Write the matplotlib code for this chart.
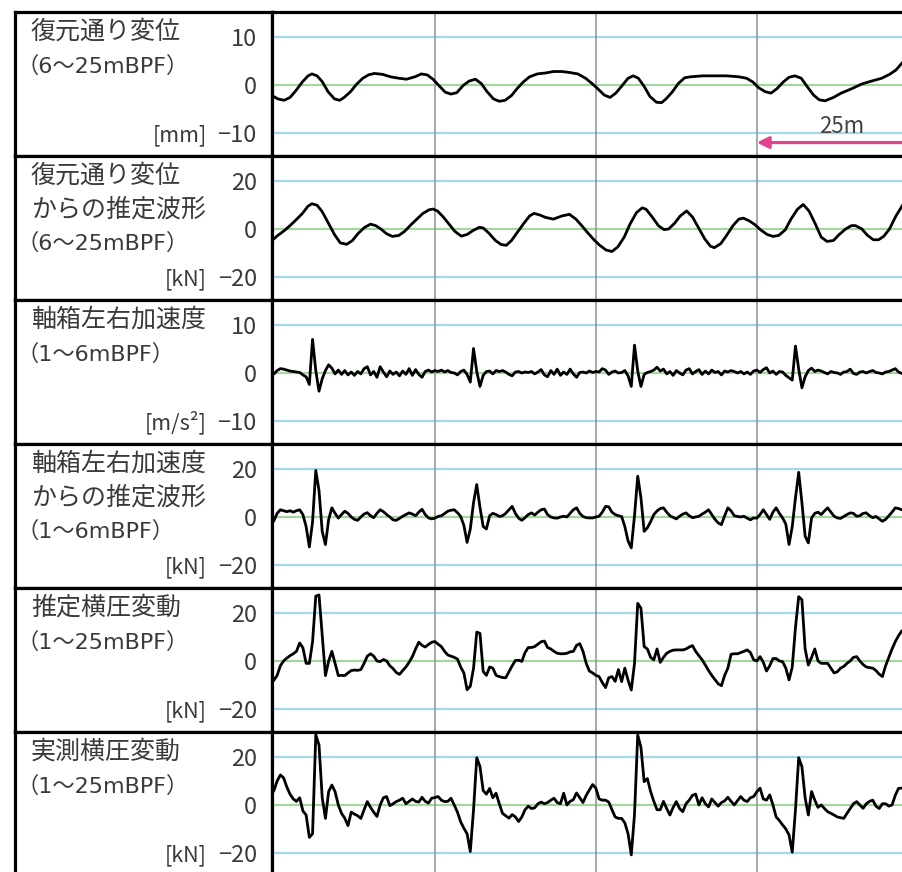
import numpy as np
import matplotlib
matplotlib.use('Agg')
import matplotlib.pyplot as plt

plt.rcParams['font.family'] = ['Noto Sans CJK JP', 'DejaVu Sans']

# --- データ（距離 [m]） ---
# 復元通り変位 (6~25mBPF) [mm]
disp_x = [-0.3, 0.6, 1.6, 2.5, 3.4, 4.4, 5.3, 5.9, 6.7, 7.5, 8.4, 9.4, 10.2, 10.9, 11.9,
          12.8, 13.8, 14.7, 15.6, 16.9, 18.1, 19.4, 20.6, 21.9, 22.9, 23.8, 24.7, 25.6,
          26.6, 27.5, 28.4, 29.4, 30.3, 31.3, 32.2, 33.1, 34.1, 35.0, 35.9, 36.9, 37.8,
          38.8, 39.7, 40.9, 42.2, 43.4, 44.7, 45.9, 47.2, 48.4, 49.4, 50.3, 51.3, 52.2,
          53.1, 54.1, 55.0, 55.8, 56.6, 57.5, 58.4, 59.4, 60.2, 60.9, 61.9, 62.8, 63.8,
          64.7, 66.6, 68.4, 70.3, 72.2, 73.4, 74.4, 75.3, 76.3, 77.2, 78.1, 79.1, 80.0,
          80.9, 81.9, 82.8, 83.8, 84.7, 85.6, 86.9, 88.1, 89.7, 91.3, 92.8, 94.4, 95.6,
          96.6, 97.7]
disp_y = [-2.2, -2.9, -3.2, -2.6, -1.2, 0.6, 1.9, 2.3, 1.9, 0.7, -1.4, -2.9, -3.2, -2.6, -1.4,
          0.1, 1.4, 2.1, 2.4, 2.2, 1.7, 1.4, 1.2, 1.7, 2.3, 2.1, 1.2, -0.1,
          -1.5, -1.9, -1.6, -0.1, 0.8, 1.2, 0.3, -1.4, -2.9, -3.4, -3.2, -2.2, -0.7,
          0.7, 1.7, 2.3, 2.5, 2.8, 2.8, 2.6, 2.3, 1.4, 0.3, -0.8, -2.1, -2.6,
          -1.7, -0.1, 1.4, 1.9, 1.4, -0.3, -2.4, -3.6, -3.7, -2.9, -1.4, 0.3, 1.5,
          1.7, 1.9, 1.9, 1.9, 1.7, 1.4, 0.6, -0.6, -1.4, -1.7, -0.8, 0.6, 1.6,
          1.9, 1.4, -0.3, -2.1, -3.1, -3.3, -2.6, -1.7, -0.8, 0.2, 0.8, 1.4, 2.2,
          3.1, 4.8]

# 復元通り変位からの推定波形 (6~25mBPF) [kN]
disp_force_x = [-0.3, 0.6, 1.6, 2.5, 3.4, 4.4, 5.3, 5.9, 6.7, 7.5, 8.4, 9.4, 10.3, 11.3, 12.2,
                13.1, 14.1, 15.0, 15.8, 16.6, 17.5, 18.4, 19.4, 20.3, 21.3, 22.2, 23.1, 24.1,
                24.7, 25.4, 26.3, 27.2, 28.1, 29.1, 30.0, 30.9, 31.9, 32.5, 33.4, 34.4, 35.3,
                36.1, 36.9, 37.8, 38.8, 39.7, 40.4, 41.3, 42.2, 43.4, 44.7, 45.9, 46.9, 47.8,
                48.8, 49.7, 50.6, 51.6, 52.5, 53.4, 54.4, 55.3, 56.3, 57.2, 57.8, 58.8, 59.7,
                60.6, 61.3, 62.2, 63.1, 64.1, 65.0, 65.9, 66.9, 67.8, 68.4, 69.4, 70.3, 71.3,
                72.2, 72.9, 73.8, 74.7, 75.6, 76.6, 77.5, 78.4, 79.4, 80.3, 81.3, 82.2, 83.1,
                84.1, 85.0, 85.9, 86.9, 87.8, 88.8, 89.7, 90.3, 91.3, 92.2, 93.1, 93.9, 94.7,
                95.6, 96.6, 97.7]
disp_force_y = [-4.8, -2.7, -0.7, 1.4, 3.7, 6.4, 9.5, 10.5, 9.9, 7.2, 2.7, -2.3, -5.8, -6.4, -4.8,
                -1.8, 0.7, 2.0, 1.4, 0.0, -2.0, -3.1, -2.7, -1.0, 1.8, 4.1, 6.4, 8.0,
                8.3, 7.5, 5.0, 2.0, -1.0, -3.0, -2.3, -0.7, 0.7, 0.4, -1.8, -4.8, -6.5,
                -6.8, -4.8, -1.4, 2.3, 5.4, 6.5, 5.8, 4.8, 4.1, 5.4, 6.1, 4.1, 1.4,
                -1.8, -4.5, -6.8, -8.8, -9.4, -7.5, -3.4, 2.0, 6.8, 8.8, 8.2, 4.8, 1.4,
                -0.3, 0.0, 2.3, 5.4, 7.5, 5.0, 0.7, -4.1, -7.2, -7.8, -6.1, -2.7, 1.4,
                4.1, 4.5, 3.4, 1.8, -0.4, -2.3, -3.1, -2.7, -0.4, 4.1, 8.2, 10.2, 7.5,
                2.0, -3.4, -5.2, -4.8, -2.3, 0.0, 1.4, 1.4, 0.0, -2.7, -4.5, -4.5, -3.1,
                0.0, 5.4, 10.2]

# 0.5m 間隔の距離
dist = np.arange(-0.5, 98.01, 0.5)

# 軸箱左右加速度 (1~6mBPF) [m/s2]
accel_y = [
    -0.3, -0.2, 0.5, 0.9, 0.8, 0.6, 0.4, 0.3, 0.2, 0.1,
    -0.4, -0.8, -2.4, 7.0, 0.5, -3.8, -1.2, 0.5, 1.7, 1.0,
    -0.2, 0.6, -0.3, 0.5, -0.4, 0.2, -0.5, 0.3, -0.2, 0.9,
    1.3, -0.4, 0.3, -0.9, 1.3, 0.2, -0.8, 0.4, -0.3, 0.2,
    -0.6, 0.4, -0.3, 0.9, -0.5, 0.7, -0.3, -0.9, 0.3, 0.6,
    0.2, 0.5, 0.3, 0.6, 0.2, 0.5, 0.1, 0.0, -0.4, 0.3,
    0.6, -0.3, -1.9, 5.1, 0.3, -2.8, -0.5, 0.3, 0.4, -0.2,
    0.5, 0.3, 0.5, 0.2, -0.3, -0.6, 0.2, 0.3, 0.0, 0.2,
    0.1, 0.3, -0.2, 0.2, 0.7, -0.4, -0.8, 0.5, -0.3, 0.8,
    -0.5, 0.2, -0.3, 0.8, -0.2, -0.9, 0.1, 0.2, 0.0, 0.4,
    0.1, 0.3, 0.2, 0.9, 0.6, -0.3, 0.2, 0.4, 0.0, 0.1,
    0.5, -0.6, -2.8, 5.8, 0.4, -2.8, -0.3, 0.1, 0.3, 0.6,
    1.2, 0.4, 0.8, -0.2, 0.3, -0.5, 0.5, 0.0, -0.4, 0.6,
    0.9, -0.2, 0.3, 0.7, -0.3, 0.4, -0.2, 0.6, 0.1, 0.3,
    -0.4, 0.4, 0.2, 0.5, 0.3, 0.0, 0.3, -0.2, 0.2, -0.3,
    0.4, 0.6, 0.1, 0.7, 1.1, 0.0, 0.4, -0.3, 0.3, 0.2,
    -0.5, -1.0, -1.5, 5.6, 0.8, -3.1, -0.8, 0.5, 1.0, 0.3,
    0.6, 0.4, 0.1, -0.2, 0.3, 0.1, 0.0, -0.3, 0.2, 0.3,
    0.8, -0.1, -0.3, 0.2, 0.3, 0.0, 0.3, 0.5, 0.1, 0.0,
    -0.2, 0.2, 0.3, 0.6, 0.9, 0.2, -0.1, 0.0]

# 軸箱左右加速度からの推定波形 (1~6mBPF) [kN]
accel_force_y = [
    -3.6, -1.5, 1.5, 3.0, 2.6, 2.2, 2.6, 2.0, 2.6, 3.0,
    1.0, -4.0, -12.5, -2.0, 19.4, 11.0, -6.0, -11.5, -1.0, 3.8,
    1.5, -0.5, 1.0, 2.4, 1.5, 0.0, -1.0, -1.4, 0.0, 1.2,
    1.8, 0.5, -0.3, 1.5, 3.0, 2.2, 1.0, 0.0, -1.2, -1.4,
    -0.6, 0.3, 1.0, 1.7, 1.2, 0.5, 2.0, 3.2, 1.0, -0.4,
    -0.8, -0.5, 0.2, 0.5, 1.4, 2.4, 2.8, 3.0, 1.8, 0.2,
    -3.5, -10.6, -5.0, 6.0, 13.5, 4.0, -4.0, -5.0, 0.5, 1.5,
    1.0, 0.2, 0.5, 1.5, 3.0, 4.4, 1.5, -0.5, -1.4, -0.3,
    1.0, 1.7, 0.8, 2.0, 3.0, 3.3, 1.0, 0.0, -0.4, -0.5,
    0.0, 0.3, 0.0, 1.5, 3.0, 3.8, 1.5, 0.2, -0.3, -0.4,
    -0.4, 0.0, 0.3, 2.0, 4.4, 4.2, 2.0, 1.0, 0.5, 0.2,
    -4.0, -10.0, -12.9, 0.5, 17.0, 8.0, -6.0, -4.5, -2.0, 1.0,
    2.5, 3.5, 3.8, 2.0, 0.5, -0.2, -0.8, 0.3, 1.2, 1.7,
    0.5, -0.3, 0.0, 0.3, 1.2, 2.0, 3.0, 1.0, -1.0, -2.5,
    -3.2, 0.5, 3.8, 2.5, 0.5, 0.2, 0.0, 0.3, -0.5, -1.2,
    -0.4, -0.5, 1.0, 3.0, 1.0, -1.0, 2.0, 3.8, 1.5, -0.4,
    -3.0, -11.5, -4.0, 8.0, 18.6, 6.0, -8.0, -10.8, -0.4, 1.5,
    2.0, 1.0, 2.5, 3.8, 2.0, 0.3, -0.4, -0.6, 0.2, 1.0,
    1.7, 1.5, 0.3, 0.5, 1.5, 1.7, 0.5, -0.3, 0.2, -0.8,
    -1.8, -1.0, 0.5, 2.0, 3.8, 3.5, 3.0, 2.6]

# 推定横圧変動 (1~25mBPF) [kN]
est_force_y = [
    -9.3, -8.0, -6.0, -2.0, 0.0, 1.2, 2.2, 3.0, 4.0, 7.5,
    5.5, -1.0, -1.0, 8.0, 27.0, 27.5, 10.8, -6.1, 0.0, 4.0,
    -1.0, -6.1, -6.0, -6.1, -5.0, -4.0, -3.8, -3.9, -3.6, -1.0,
    2.0, 3.0, 2.0, 0.0, -0.3, 0.6, 0.0, -2.0, -3.2, -4.8,
    -5.6, -4.0, -2.5, -0.5, 1.8, 5.0, 7.8, 6.5, 5.8, 6.9,
    7.8, 8.1, 7.0, 6.0, 4.0, 2.5, 2.0, 1.5, 0.8, -2.5,
    -5.0, -12.0, -10.5, -3.0, 12.0, 11.5, -4.4, -6.0, -2.5, -3.0,
    -6.0, -6.5, -6.9, -7.0, -4.5, -2.0, 0.2, 0.3, -0.2, 3.5,
    5.6, 5.6, 6.0, 7.0, 8.0, 8.3, 5.6, 5.0, 4.0, 3.2,
    3.0, 3.0, 3.2, 3.8, 4.0, 6.5, 7.2, 4.0, -1.0, -4.2,
    -5.0, -6.0, -6.5, -9.0, -11.1, -7.0, -6.5, -8.5, -3.6, -8.6,
    -3.0, -8.0, -12.1, -1.0, 24.0, 22.0, 6.0, 5.0, 1.5, 0.5,
    5.0, -0.6, 1.5, 3.2, 4.0, 4.5, 4.6, 4.6, 4.6, 5.0,
    5.8, 6.4, 4.0, 2.2, 0.5, -1.7, -4.0, -6.0, -7.8, -9.5,
    -10.3, -6.0, -3.0, 2.8, 3.0, 3.0, 3.5, 4.0, 4.6, 3.5,
    0.5, 0.0, 1.8, -0.5, -4.2, -2.0, 1.0, 1.0, 0.0, -0.3,
    -3.0, -7.9, -2.5, 14.0, 26.8, 25.5, 5.0, -1.7, 1.5, 5.0,
    0.0, -1.0, -1.0, -1.0, -3.0, -5.0, -4.5, -3.0, -2.3, -1.0,
    0.0, 1.5, 1.8, 0.0, -1.5, -2.5, -2.8, -3.0, -4.0, -5.5,
    -6.5, -2.0, 1.5, 5.0, 8.0, 10.5, 12.5, 13.0]

# 実測横圧変動 (1~25mBPF) [kN]
meas_force_y = [
    4.0, 6.0, 10.0, 12.5, 11.3, 7.5, 4.5, 2.5, 1.5, 3.0,
    -2.5, -4.2, -13.5, -12.0, 29.2, 25.0, 3.0, -5.6, 5.6, 8.3,
    5.5, 0.0, -3.5, -5.5, -8.6, -3.0, -3.8, -4.5, -5.6, -2.0,
    1.4, -1.0, -3.0, -4.8, 0.0, 3.0, 3.5, -0.3, 0.5, 1.4,
    2.0, 2.8, 0.5, 1.5, 2.5, 1.5, 1.2, 3.2, 1.5, 0.8,
    2.8, 3.1, 3.5, 2.0, 1.4, 1.5, 2.8, 0.0, -3.0, -7.0,
    -9.7, -12.0, -19.4, -2.0, 19.7, 16.0, 6.0, 4.5, 6.9, 3.0,
    4.9, 0.5, -3.5, -4.5, -5.5, -4.0, -5.0, -6.9, -5.0, -2.0,
    -0.5, -1.5, -1.2, 0.5, 1.2, 0.5, 1.0, 2.0, 2.8, 1.0,
    0.5, 4.9, 0.0, 1.5, 2.2, 5.0, 3.0, 1.0, 4.0, 6.3,
    8.5, 7.0, 2.5, 2.0, 2.0, 1.2, -2.0, -5.0, -5.6, -5.6,
    -7.5, -12.0, -20.8, -4.0, 29.2, 24.0, 9.7, 11.0, 5.6, 1.5,
    -2.0, -2.0, 1.5, -1.5, -4.2, -1.0, 1.4, -1.5, -2.8, 0.5,
    2.0, 4.0, 4.5, 0.0, 3.0, 0.5, -0.8, 2.5, 1.0, -0.5,
    1.0, 1.7, 3.2, 1.5, 0.0, 1.8, 3.5, 2.0, 1.4, 3.0,
    3.5, 5.5, 7.0, 2.5, 2.0, 4.2, 0.0, -5.0, -6.5, -8.3,
    -10.0, -12.5, -19.7, -2.0, 19.7, 16.0, 3.0, -4.2, 5.6, 2.0,
    -1.0, 0.0, -1.5, -2.8, -3.5, -4.2, -5.0, -5.3, -5.6, -3.5,
    -1.5, 0.5, 1.4, 0.0, -1.4, 0.5, 1.5, 2.0, -0.5, -1.5,
    0.5, 0.5, -0.5, 0.0, 4.0, 6.9, 7.0, 7.5]

titles = [
    ['復元通り変位', '（6～25mBPF）'],
    ['復元通り変位', 'からの推定波形', '（6～25mBPF）'],
    ['軸箱左右加速度', '（1～6mBPF）'],
    ['軸箱左右加速度', 'からの推定波形', '（1～6mBPF）'],
    ['推定横圧変動', '（1～25mBPF）'],
    ['実測横圧変動', '（1～25mBPF）'],
]
units = ['[mm]', '[kN]', '[m/s²]', '[kN]', '[kN]', '[kN]']
levels = [10, 20, 10, 20, 20, 20]
series = [
    (disp_x, disp_y),
    (disp_force_x, disp_force_y),
    (dist, accel_y),
    (dist, accel_force_y),
    (dist, est_force_y),
    (dist, meas_force_y),
]
joints = [25, 50, 75]

# --- 描画 ---
W, H = 903, 872
fig = plt.figure(figsize=(W / 100, H / 100), dpi=100)

frame_left = 15
plot_left = 272
panel_h = 144
tops = [12, 156, 300, 444, 588, 732]
text_col = '#3a3a3a'
frame_lw = 2.3
latin_first = ['DejaVu Sans', 'Noto Sans CJK JP']

for i in range(6):
    top = tops[i]
    yb = 1 - (top + panel_h) / H
    L = levels[i]

    # ラベル欄
    lax = fig.add_axes([frame_left / W, yb, (plot_left - frame_left) / W, panel_h / H])
    lax.set_xlim(0, plot_left - frame_left)
    lax.set_ylim(panel_h, 0)
    lax.set_xticks([])
    lax.set_yticks([])
    for s in lax.spines.values():
        s.set_linewidth(frame_lw)
    row_y = [20, 54, 87]
    for j, t in enumerate(titles[i]):
        if t.startswith('（'):
            lax.text(1, row_y[j], t, fontsize=16, color=text_col,
                     family=latin_first, ha='left', va='center')
        else:
            lax.text(16, row_y[j], t, fontsize=18, color=text_col,
                     ha='left', va='center')
    lax.text(192, 123, units[i], fontsize=15.5, color=text_col,
             ha='right', va='center')

    # グラフ欄
    ax = fig.add_axes([plot_left / W, yb, (W - plot_left) / W, panel_h / H])
    x, y = series[i]
    ax.plot(x, y, color='black', lw=2.0, zorder=3)
    ax.axhline(L, color='#a3d9e6', lw=1.6, zorder=1)
    ax.axhline(-L, color='#a3d9e6', lw=1.6, zorder=1)
    ax.axhline(0, color='#a5d6a0', lw=1.6, zorder=1)
    for j in joints:
        ax.axvline(j, color='#909090', lw=1.1, zorder=1)
    ax.set_xlim(-0.3, 97.7)
    ax.set_ylim(-1.48 * L, 1.52 * L)
    ax.set_xticks([])
    ax.set_yticks([-L, 0, L])
    ax.tick_params(axis='y', length=0, pad=11, labelsize=17, labelcolor=text_col)
    for side in ['left', 'top', 'bottom']:
        ax.spines[side].set_linewidth(frame_lw)
    ax.spines['right'].set_visible(False)

    if i == 0:
        ax.annotate('', xy=(75, -12), xytext=(99, -12),
                    arrowprops=dict(arrowstyle='-|>,head_length=0.7,head_width=0.35',
                                    color='#e2438c', lw=2.3, shrinkA=0, shrinkB=0),
                    annotation_clip=False, zorder=4)
        ax.text(88.2, -8.6, '25m', fontsize=16, color='#444444',
                ha='center', va='center', zorder=4)

fig.savefig('out.png', dpi=100)
